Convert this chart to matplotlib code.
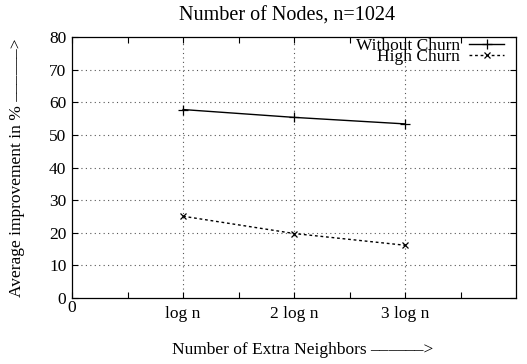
import matplotlib
matplotlib.use('Agg')
import matplotlib.pyplot as plt

# data
x_pos = [1, 2, 3]
x_tick_pos = [0, 1, 2, 3]
x_tick_labels = ['0', 'log n', '2 log n', '3 log n']
without_churn = [57.8, 55.4, 53.4]
high_churn = [25.1, 19.8, 16.2]
y_ticks = [0, 10, 20, 30, 40, 50, 60, 70, 80]

plt.rcParams['font.family'] = ['Liberation Serif', 'DejaVu Serif']
fs = 12.5

fig = plt.figure(figsize=(5.27, 3.64), dpi=100)
ax = fig.add_axes([0.1366, 0.181, 0.843, 0.717])

ax.plot(x_pos, without_churn, color='black', lw=1, marker='+', ms=7, mew=0.9,
        label='Without Churn')
ax.plot(x_pos, high_churn, color='black', lw=1, ls=(0, (2, 2)), marker='x',
        ms=5, mew=0.9, label='High Churn')

ax.set_xlim(0, 4)
ax.set_ylim(0, 80)
ax.set_xticks(x_tick_pos)
ax.set_xticklabels(x_tick_labels)
ax.set_xticks([0.5, 1.5, 2.5, 3.5], minor=True)
ax.set_yticks(y_ticks)

ax.tick_params(which='both', direction='in', length=4.5, width=0.8,
               top=True, right=True, labelsize=fs)
ax.tick_params(axis='x', pad=6)
ax.tick_params(axis='y', pad=4)
ax.xaxis.get_major_ticks()[0].set_pad(1.5)

# grid at 10..70 and log n positions
for y in y_ticks[1:-1]:
    ax.axhline(y, color='#555555', lw=0.8, ls=(0, (1, 3)), zorder=0)
for x in x_pos:
    ax.axvline(x, color='#555555', lw=0.8, ls=(0, (1, 3)), zorder=0)

for s in ax.spines.values():
    s.set_linewidth(0.9)

ax.set_title('Number of Nodes, n=1024', fontsize=14.5, pad=12, x=0.485)
ax.set_xlabel('Number of Extra Neighbors \u2013\u2013\u2013\u2013\u2013\u2013>', fontsize=fs,
              labelpad=14, x=0.52)
ax.set_ylabel('Average improvement in % \u2013\u2013\u2013\u2013\u2013\u2013>', fontsize=fs, labelpad=17)

ax.legend(loc='upper right', bbox_to_anchor=(1.0, 1.045), frameon=False,
          markerfirst=False, fontsize=fs, handlelength=2.0, handletextpad=0.55,
          labelspacing=-0.3, borderpad=0.2)

fig.savefig('out.png', dpi=100)
